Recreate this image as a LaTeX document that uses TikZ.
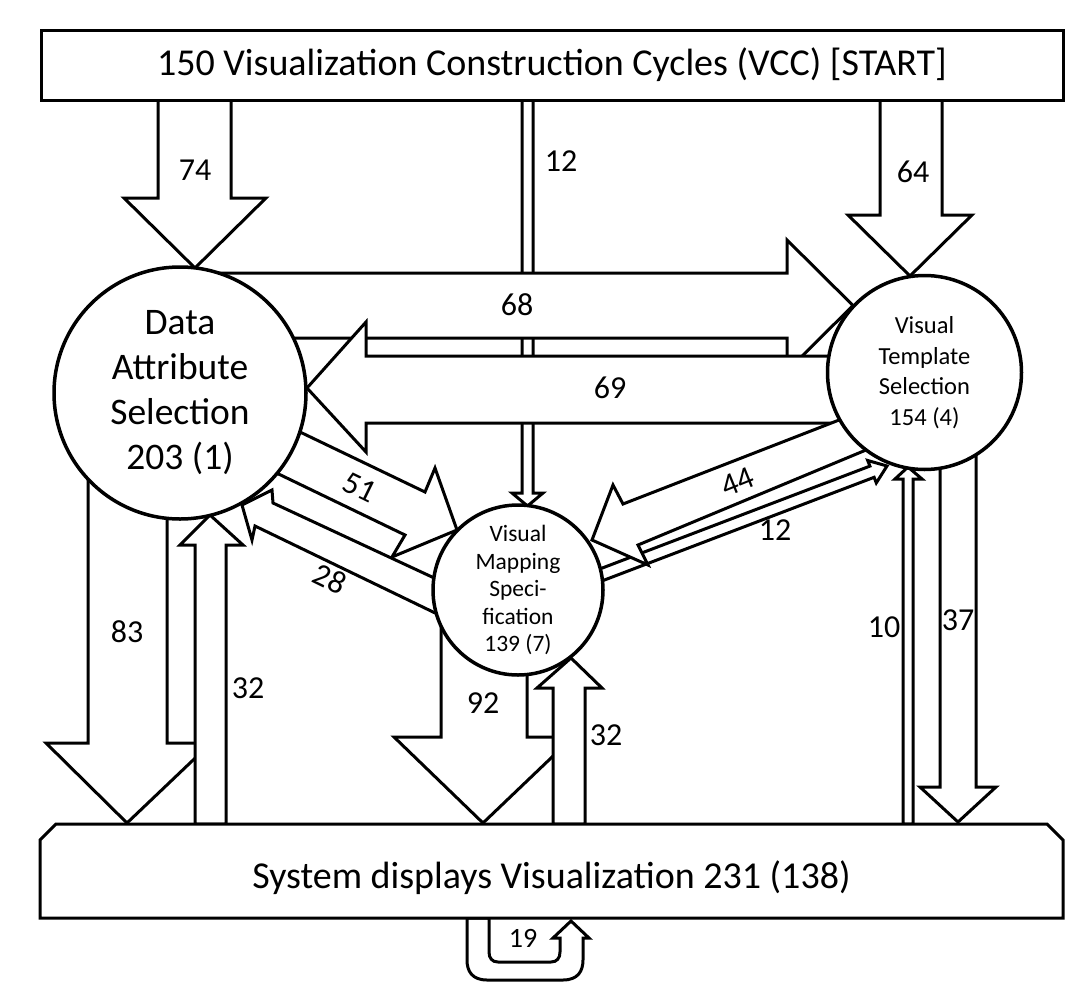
\documentclass[tikz,border=0pt]{standalone}
\usepackage{fontspec}
\setmainfont{Carlito}
\usetikzlibrary{shapes.misc}

\begin{document}
\begin{tikzpicture}[x=1pt,y=-1pt,
  blockarrow/.style={draw, fill=white, line width=3pt, line join=miter},
  stage/.style={circle, draw, fill=white, line width=3.5pt, inner sep=0pt, align=center},
  numlabel/.style={inner sep=0pt, font=\fontsize{32}{36}\selectfont}]
\useasboundingbox (0,0) rectangle (1074,988);

\draw[blockarrow] (522,100) -- (522,493) -- (512,493) -- (527.5,506) -- (543,493) -- (533,493) -- (533,100) -- cycle;
\draw[blockarrow] (158,100) -- (158,198) -- (124,198) -- (195,268) -- (266,198) -- (231,198) -- (231,100) -- cycle;
\draw[blockarrow] (880,100) -- (880,215) -- (848,215) -- (910,276) -- (972,215) -- (942,215) -- (942,100) -- cycle;

\draw[blockarrow] (200,273) -- (787,273) -- (787,240) -- (853,305.5) -- (787,371) -- (787,338) -- (200,338) -- cycle;
\draw[blockarrow] (870,356) -- (366,356) -- (366,322) -- (307,388) -- (366,452) -- (366,423) -- (870,423) -- cycle;

\draw[blockarrow] (275,420) -- (425,492) -- (435,468) -- (457,530) -- (392,557) -- (405,535) -- (262,466) -- cycle;
\draw[blockarrow] (460,590) -- (273,503) -- (272,490) -- (242,505) -- (252,540) -- (255,526) -- (460,625) -- cycle;
\draw[blockarrow] (582.9,575.4) -- (869.9,466.1) -- (867.7,460.5) -- (887,466) -- (876.3,482.9) -- (874.1,477.3) -- (587.1,586.6) -- cycle;
\draw[blockarrow] (870,408) -- (623,504) -- (613,485) -- (592,540) -- (648,565) -- (638,545) -- (890,440) -- cycle;

\draw[blockarrow] (88,470) -- (88,743) -- (46,743) -- (127,823) -- (211,743) -- (167,743) -- (167,470) -- cycle;
\draw[blockarrow] (195,824) -- (195,545) -- (180,545) -- (210,515) -- (243,545) -- (226,545) -- (226,824) -- cycle;
\draw[blockarrow] (441,615) -- (441,737) -- (394,737) -- (483,823) -- (573,737) -- (527,737) -- (527,615) -- cycle;
\draw[blockarrow] (553,824) -- (553,688) -- (537,688) -- (571,658) -- (602,688) -- (585,688) -- (585,824) -- cycle;
\draw[blockarrow] (903,824) -- (903,479) -- (895,479) -- (908,467) -- (922,479) -- (913,479) -- (913,824) -- cycle;
\draw[blockarrow] (940,440) -- (940,787) -- (920,787) -- (958,822) -- (996,787) -- (976,787) -- (976,440) -- cycle;

\draw[blockarrow] (467,918) -- (467,960) .. controls (467,971) and (472,980) .. (487,980) -- (563,980)
  .. controls (578,980) and (583,971) .. (583,960) -- (583,938) -- (589,938) -- (571,921) -- (553,938)
  -- (560,938) -- (560,952) .. controls (560,958) and (557,962) .. (551,962) -- (498,962)
  .. controls (492,962) and (489,958) .. (489,952) -- (489,918) -- cycle;

\node[draw, fill=white, line width=3pt, minimum width=1022pt, minimum height=70pt, font=\fontsize{38}{44}\selectfont] (vcc) at (552,65) {150 Visualization Construction Cycles (VCC) [START]};
\node[chamfered rectangle, chamfered rectangle corners={north west,north east}, chamfered rectangle xsep=8pt, chamfered rectangle ysep=8pt, draw, fill=white, line width=3pt, minimum width=1023pt, minimum height=94pt, font=\fontsize{38}{44}\selectfont] (sdv) at (551.5,871) {\raisebox{-7pt}[\height][\depth]{System displays Visualization 231 (138)}};

\node[stage, minimum size=252pt, font=\fontsize{37.5}{45}\selectfont] (das) at (180,393) {Data\\Attribute\\Selection\\203 (1)};
\node[stage, minimum size=194pt, font=\fontsize{24.5}{30.5}\selectfont] (vts) at (924.5,372.5) {Visual\\Template\\Selection\\154 (4)};
\node[stage, minimum size=170pt, font=\fontsize{23.5}{27.5}\selectfont] (vms) at (518,590) {Visual\\Mapping\\Speci-\\fication\\139 (7)};

\node[numlabel] (n74) at (195,170) {74};
\node[numlabel] (n12a) at (561,161) {12};
\node[numlabel] (n64) at (913,172) {64};
\node[numlabel] (n68) at (517,305) {68};
\node[numlabel] (n69) at (610,388) {69};
\node[numlabel, rotate=-26] (n51) at (360,487) {51};
\node[numlabel, rotate=-26] (n28) at (330,579) {28};
\node[numlabel, rotate=22] (n44) at (738,482) {44};
\node[numlabel] (n12b) at (775,530) {12};
\node[numlabel] (n83) at (127,632) {83};
\node[numlabel] (n32a) at (248,688) {32};
\node[numlabel] (n92) at (483,703) {92};
\node[numlabel] (n32b) at (606,735) {32};
\node[numlabel] (n10) at (884,627) {10};
\node[numlabel] (n37) at (958,620) {37};
\node[numlabel, font=\fontsize{28}{32}\selectfont] (n19) at (523,938) {19};
\end{tikzpicture}
\end{document}
